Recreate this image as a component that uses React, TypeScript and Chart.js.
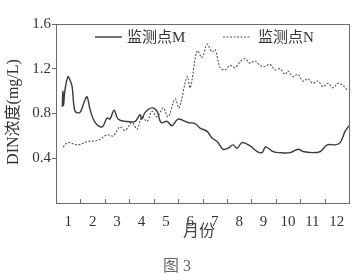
import React, { useEffect, useRef } from "react";
import { Chart, registerables } from "chart.js";

Chart.register(...registerables);

// Month positions (fraction of year, 0 = start of Jan) and DIN values
const monthsM = [0.26, 0.28, 0.31, 0.36, 0.49, 0.57, 0.66, 0.78, 0.98, 1.15, 1.27, 1.39, 1.6, 1.89, 2.09, 2.21, 2.38, 2.54, 2.83, 3.24, 3.44, 3.52, 3.65, 3.93, 4.14, 4.3, 4.55, 4.75, 5.0, 5.41, 5.7, 5.9, 6.19, 6.39, 6.6, 6.84, 7.05, 7.25, 7.42, 7.62, 7.95, 8.24, 8.44, 8.57, 8.69, 8.89, 9.18, 9.59, 9.92, 10.12, 10.49, 10.82, 11.11, 11.43, 11.64, 11.84, 12.0];
const valuesM = [0.86, 1.0, 0.87, 1.0, 1.13, 1.1, 1.04, 0.82, 0.81, 0.9, 0.95, 0.84, 0.72, 0.68, 0.76, 0.75, 0.83, 0.75, 0.73, 0.73, 0.79, 0.75, 0.81, 0.85, 0.82, 0.72, 0.73, 0.69, 0.75, 0.72, 0.71, 0.67, 0.64, 0.58, 0.55, 0.48, 0.49, 0.52, 0.49, 0.54, 0.51, 0.46, 0.45, 0.5, 0.49, 0.46, 0.45, 0.45, 0.48, 0.46, 0.45, 0.46, 0.52, 0.52, 0.54, 0.64, 0.69];

const monthsN = [0.29, 0.49, 0.9, 1.31, 1.72, 2.09, 2.34, 2.62, 2.83, 3.11, 3.32, 3.52, 3.73, 3.93, 4.14, 4.39, 4.59, 4.88, 5.04, 5.37, 5.5, 5.78, 5.98, 6.19, 6.39, 6.52, 6.72, 6.92, 7.13, 7.33, 7.53, 7.74, 7.94, 8.15, 8.35, 8.56, 8.76, 8.97, 9.17, 9.38, 9.5, 9.71, 9.91, 10.11, 10.32, 10.52, 10.73, 10.93, 11.14, 11.34, 11.55, 11.75, 11.96];
const valuesN = [0.5, 0.54, 0.52, 0.55, 0.56, 0.61, 0.6, 0.68, 0.65, 0.72, 0.66, 0.77, 0.73, 0.82, 0.77, 0.85, 0.77, 0.93, 0.85, 1.13, 1.03, 1.36, 1.3, 1.42, 1.35, 1.37, 1.21, 1.19, 1.23, 1.21, 1.26, 1.29, 1.25, 1.27, 1.23, 1.22, 1.24, 1.19, 1.2, 1.15, 1.18, 1.13, 1.15, 1.09, 1.11, 1.07, 1.09, 1.04, 1.07, 1.03, 1.07, 1.05, 1.0];

const monthLabels = ["1", "2", "3", "4", "5", "6", "7", "8", "9", "10", "11", "12"];
const labelPositions = [0.5, 1.5, 2.5, 3.5, 4.5, 5.5, 6.5, 7.5, 8.5, 9.5, 10.5, 11.5];
const monthBoundaries = [1, 2, 3, 4, 5, 6, 7, 8, 9, 10, 11];
const yTicks = [0, 0.4, 0.8, 1.2, 1.6];

const seriesNames = ["监测点M", "监测点N"];
const yTitle = "DIN浓度(mg/L)";
const xTitle = "月份";
const figCaption = "图 3";

const SERIF = '"Liberation Serif", "DejaVu Serif", "Noto Sans CJK SC", serif';
const AXIS = "#6b6b6b";

const decor = {
  id: "decor",
  afterDraw(chart: any) {
    const { ctx, chartArea: a, scales } = chart;
    ctx.save();
    ctx.strokeStyle = AXIS;
    ctx.lineWidth = 1;
    ctx.setLineDash([]);
    ctx.strokeRect(Math.round(a.left) + 0.5, Math.round(a.top) + 0.5, Math.round(a.right - a.left), Math.round(a.bottom - a.top));
    ctx.beginPath();
    monthBoundaries.forEach((b) => {
      const px = Math.round(scales.x.getPixelForValue(b)) + 0.5;
      ctx.moveTo(px, a.bottom);
      ctx.lineTo(px, a.bottom - 4);
    });
    ctx.stroke();

    // legend
    const ly = a.top + 13;
    ctx.strokeStyle = "#3a3a3a";
    ctx.lineWidth = 1.4;
    ctx.beginPath();
    ctx.moveTo(95, ly);
    ctx.lineTo(122, ly);
    ctx.stroke();
    ctx.strokeStyle = "#555";
    ctx.lineWidth = 1.1;
    ctx.setLineDash([2, 1.5]);
    ctx.beginPath();
    ctx.moveTo(223, ly);
    ctx.lineTo(250, ly);
    ctx.stroke();
    ctx.setLineDash([]);
    ctx.fillStyle = "#333";
    ctx.font = "15px " + SERIF;
    ctx.textBaseline = "middle";
    ctx.textAlign = "left";
    ctx.fillText(seriesNames[0], 127, ly + 1);
    ctx.fillText(seriesNames[1], 258, ly + 1);

    // axis titles
    ctx.font = "16px " + SERIF;
    ctx.textAlign = "center";
    ctx.fillStyle = "#444";
    ctx.fillText(xTitle, 199, 232);
    ctx.fillStyle = "#666";
    ctx.fillText(figCaption, 177, 267);
    ctx.fillStyle = "#333";
    ctx.translate(14, 112);
    ctx.rotate(-Math.PI / 2);
    ctx.fillText(yTitle, 0, 0);
    ctx.restore();
  },
};

export default function App() {
  const ref = useRef<HTMLCanvasElement>(null);
  useEffect(() => {
    if (!ref.current) return;
    const chart = new Chart(ref.current, {
      type: "line",
      data: {
        datasets: [
          {
            label: seriesNames[0],
            data: monthsM.map((x, i) => ({ x, y: valuesM[i] })),
            borderColor: "#3a3a3a",
            borderWidth: 1.4,
            pointRadius: 0,
            tension: 0.35,
            fill: false,
          },
          {
            label: seriesNames[1],
            data: monthsN.map((x, i) => ({ x, y: valuesN[i] })),
            borderColor: "#555",
            borderWidth: 1.1,
            borderDash: [2, 1.5],
            pointRadius: 0,
            tension: 0.35,
            fill: false,
          },
        ],
      },
      options: {
        animation: false,
        responsive: false,
        maintainAspectRatio: false,
        layout: { padding: { top: 24, right: 8, left: 0, bottom: 0 } },
        plugins: { legend: { display: false }, tooltip: { enabled: false }, title: { display: false } },
        scales: {
          x: {
            type: "linear",
            min: 0,
            max: 12,
            grid: { display: false },
            border: { display: false },
            afterBuildTicks: (scale: any) => {
              scale.ticks = labelPositions.map((v) => ({ value: v }));
            },
            afterFit: (scale: any) => {
              scale.height = 72;
            },
            ticks: {
              autoSkip: false,
              maxRotation: 0,
              padding: 2,
              color: "#333",
              font: { family: SERIF, size: 15 },
              callback: (_v: any, i: number) => monthLabels[i],
            },
          },
          y: {
            min: 0,
            max: 1.6,
            afterBuildTicks: (scale: any) => {
              scale.ticks = yTicks.map((v) => ({ value: v }));
            },
            afterFit: (scale: any) => {
              scale.width = 56;
            },
            grid: {
              drawOnChartArea: false,
              drawTicks: true,
              tickLength: 4,
              color: (c: any) => (c.tick && c.tick.value === 0 ? "rgba(0,0,0,0)" : AXIS),
            },
            border: { display: false },
            ticks: {
              padding: 1,
              color: "#333",
              font: { family: SERIF, size: 15 },
              callback: (v: any) => (v === 0 ? "" : Number(v).toFixed(1)),
            },
          },
        },
      },
      plugins: [decor],
    });
    return () => chart.destroy();
  }, []);
  return (
    <div style={{ position: "absolute", left: 0, top: 0, width: 357, height: 275, background: "#fff" }}>
      <canvas ref={ref} width={357} height={275} style={{ display: "block" }} />
    </div>
  );
}
